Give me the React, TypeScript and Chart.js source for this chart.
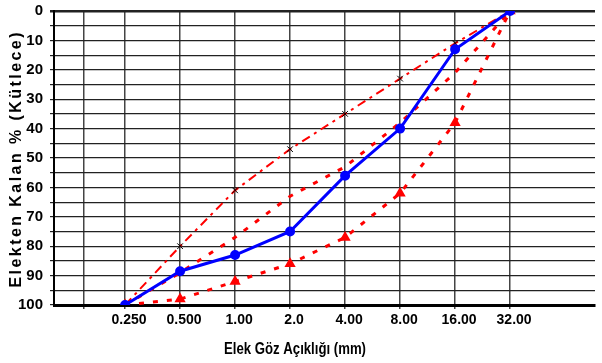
import React, { useEffect, useRef } from "react";
import { Chart, registerables } from "chart.js";

Chart.register(...registerables);

// ---- data ----
const sieveLabels = ["0.250", "0.500", "1.00", "2.0", "4.00", "8.00", "16.00", "32.00"];
const sieveSizes = [0.25, 0.5, 1, 2, 4, 8, 16, 32];
const extraGridSizes = [0.1487];
const blueCurve = [100, 88.5, 83, 75, 56, 40, 13, 0];
const upperLimit = [100, 80, 61, 47, 35, 23, 11, 0];
const middleCurve = [100, 89, 77, 63, 53, 38, 21, 0];
const lowerLimit = [100, 98, 92, 86, 77, 62, 38, 0];
const xTitle = "Elek Göz Açıklığı (mm)";
const yTitle = "Elekten Kalan % (Kütlece)";

const FONT = "'Liberation Sans', Arial, sans-serif";

// layout anchors (pixels)
const Y_AXIS_W = 54;
const FIRST_PX = 126;
const LAST_PX = 516;

const toPts = (vals: number[]) => vals.map((v, i) => ({ x: sieveSizes[i], y: v }));

const titlePlugin = {
  id: "axisTitles",
  afterDraw(chart: any) {
    const { ctx, chartArea } = chart;
    ctx.save();
    ctx.fillStyle = "#000";
    ctx.textAlign = "center";
    ctx.textBaseline = "middle";
    ctx.font = `bold 16px ${FONT}`;
    const wx = ctx.measureText(xTitle).width;
    ctx.save();
    ctx.translate(chartArea.left + 241, chartArea.bottom + 45);
    ctx.scale(Math.min(1, 142 / wx), 1);
    ctx.fillText(xTitle, 0, 0);
    ctx.restore();

    ctx.translate(17, (chartArea.top + chartArea.bottom) / 2 + 2);
    ctx.rotate(-Math.PI / 2);
    ctx.font = `bold 16px ${FONT}`;
    const w0 = ctx.measureText(yTitle).width;
    const sp = Math.max(0, (255 - w0) / (yTitle.length - 1));
    (ctx as any).letterSpacing = sp + "px";
    ctx.fillText(yTitle, sp / 2, 0);
    ctx.restore();
  },
};

export default function App() {
  const ref = useRef<HTMLCanvasElement>(null);
  useEffect(() => {
    document.body.style.margin = "0";
    const chart = new Chart(ref.current!, {
      type: "line",
      data: {
        datasets: [
          {
            data: toPts(blueCurve),
            borderColor: "#0000FF",
            backgroundColor: "#0000FF",
            borderWidth: 3,
            pointRadius: 3.5,
            pointStyle: "circle",
            pointBackgroundColor: "#0000FF",
            pointBorderColor: "#0000FF",
          },
          {
            data: toPts(upperLimit),
            borderColor: "#FF0000",
            borderWidth: 2,
            borderDash: [9, 5, 3, 5],
            pointStyle: "crossRot",
            pointRadius: 4,
            pointBorderWidth: 1,
            pointBorderColor: "#000",
          },
          {
            data: toPts(middleCurve),
            borderColor: "#FF0000",
            borderWidth: 3,
            borderDash: [5, 9],
            pointRadius: 0,
          },
          {
            data: toPts(lowerLimit),
            borderColor: "#FF0000",
            borderWidth: 3,
            borderDash: [5, 9],
            pointStyle: "triangle",
            pointRadius: 3.5,
            pointBackgroundColor: "#FF0000",
            pointBorderColor: "#FF0000",
          },
        ],
      },
      options: {
        animation: false,
        responsive: true,
        maintainAspectRatio: false,
        layout: { padding: { left: 0, top: 11, right: 0, bottom: 0 } },
        plugins: { legend: { display: false }, tooltip: { enabled: false } },
        scales: {
          x: {
            type: "logarithmic",
            bounds: "data",
            afterDataLimits: (s: any) => {
              const ppo = (LAST_PX - FIRST_PX) / (sieveSizes.length - 1);
              const first = sieveSizes[0];
              const w = 602 - Y_AXIS_W;
              s.min = first * Math.pow(2, -(FIRST_PX - Y_AXIS_W) / ppo);
              s.max = first * Math.pow(2, (Y_AXIS_W + w - FIRST_PX) / ppo);
            },
            afterBuildTicks: (s: any) => {
              s.ticks = [...extraGridSizes, ...sieveSizes].map((v) => ({ value: v }));
            },
            afterFit: (s: any) => {
              s.height = 58;
              s.paddingLeft = 0;
              s.paddingRight = 0;
            },
            ticks: {
              autoSkip: false,
              maxRotation: 0,
              padding: 3,
              labelOffset: 4,
              color: "#000",
              font: { family: FONT, size: 14, weight: "bold" },
              callback: (v: any) => {
                const i = sieveSizes.indexOf(Number(v));
                return i >= 0 ? sieveLabels[i] : "";
              },
            },
            grid: { color: "#444", lineWidth: 1.5, tickLength: 4 },
            border: { display: true, color: "#000", width: 3 },
          },
          y: {
            type: "linear",
            reverse: true,
            min: 0,
            max: 100,
            afterFit: (s: any) => {
              s.width = Y_AXIS_W;
            },
            ticks: {
              stepSize: 5,
              padding: 7,
              color: "#000",
              font: { family: FONT, size: 15, weight: "bold", lineHeight: 0.5 },
              callback: (v: any) => (Number(v) % 10 === 0 ? String(v) : ""),
            },
            grid: {
              color: "#222",
              lineWidth: (c: any) => (c.tick && c.tick.value === 0 ? 2.5 : 1.2),
              tickLength: 4,
            },
            border: { display: true, color: "#000", width: 2 },
          },
        },
      },
      plugins: [titlePlugin],
    });
    return () => chart.destroy();
  }, []);
  return (
    <div style={{ width: 602, height: 363, position: "relative" }}>
      <canvas ref={ref} />
    </div>
  );
}
